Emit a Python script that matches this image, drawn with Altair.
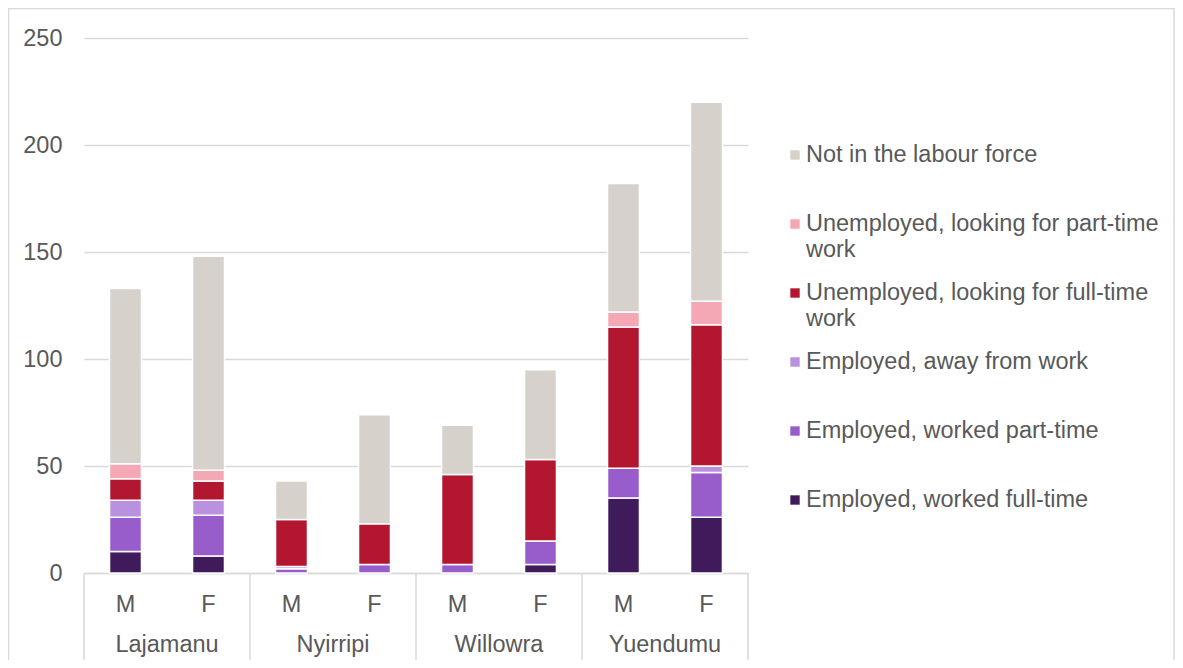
import altair as alt
import pandas as pd

towns = ["Lajamanu", "Nyirripi", "Willowra", "Yuendumu"]
sexes = ["M", "F"]

# stacking order: bottom -> top
categories = [
    "Employed, worked full-time",
    "Employed, worked part-time",
    "Employed, away from work",
    "Unemployed, looking for full-time work",
    "Unemployed, looking for part-time work",
    "Not in the labour force",
]
colors = ["#3F1B5C", "#985CCB", "#B991DE", "#B3172F", "#F4A7B4", "#D6D1CB"]

# bar order: Lajamanu M, F, Nyirripi M, F, Willowra M, F, Yuendumu M, F
worked_full_time = [10, 8, 0, 0, 0, 4, 35, 26]
worked_part_time = [16, 19, 2, 4, 4, 11, 14, 21]
away_from_work = [8, 7, 1, 0, 0, 0, 0, 3]
looking_full_time = [10, 9, 22, 19, 42, 38, 66, 66]
looking_part_time = [7, 5, 0, 0, 0, 0, 7, 11]
not_in_labour_force = [82, 100, 18, 51, 23, 42, 60, 93]

series = [worked_full_time, worked_part_time, away_from_work,
          looking_full_time, looking_part_time, not_in_labour_force]

legend_line1 = ["Not in the labour force",
                "Unemployed, looking for part-time",
                "Unemployed, looking for full-time",
                "Employed, away from work",
                "Employed, worked part-time",
                "Employed, worked full-time"]
legend_line2 = ["", "work", "work", "", "", ""]

y_ticks = [0, 50, 100, 150, 200, 250]

keys = [f"{t}|{s}" for t in towns for s in sexes]
rows = []
for ci, (cat, vals) in enumerate(zip(categories, series)):
    for k, v in zip(keys, vals):
        if v > 0:
            rows.append({"key": k, "category": cat, "order": ci, "value": v})
df = pd.DataFrame(rows)

W, H = 664, 535
step = W / len(keys)
FONT = "Liberation Sans"
GREY = "#595959"
LINE = "#D9D9D9"
FS = 23.5

xscale = alt.Scale(domain=keys, paddingInner=0.615, paddingOuter=0.3075)
cscale = alt.Scale(domain=categories, range=colors)

bars = alt.Chart(df).mark_bar(stroke="white", strokeWidth=1.5).encode(
    x=alt.X("key:N", scale=xscale, sort=keys, title=None,
            axis=alt.Axis(labelExpr="split(datum.value,'|')[1]", labelAngle=0,
                          ticks=False, domainColor=LINE, domainWidth=1.5,
                          labelFontSize=FS, labelColor=GREY, labelFont=FONT,
                          labelPadding=19, grid=False)),
    y=alt.Y("value:Q", stack="zero", scale=alt.Scale(domain=[0, 250], nice=False),
            title=None,
            axis=alt.Axis(values=y_ticks, ticks=False, domain=False,
                          gridColor=LINE, gridWidth=1.5, labelFontSize=FS,
                          labelColor=GREY, labelFont=FONT, labelPadding=22)),
    color=alt.Color("category:N", scale=cscale, legend=None),
    order=alt.Order("order:Q", sort="ascending"),
)

gdf = pd.DataFrame({"key": [f"{t}|M" for t in towns], "town": towns})
glabels = alt.Chart(gdf).mark_text(font=FONT, fontSize=FS, color=GREY,
                                   baseline="middle", dx=step / 2).encode(
    x=alt.X("key:N", scale=xscale, sort=keys),
    y=alt.value(H + 72),
    text="town:N",
)

seps = alt.Chart(gdf).mark_rule(color=LINE, strokeWidth=1.5, xOffset=-step / 2).encode(
    x=alt.X("key:N", scale=xscale, sort=keys),
    y=alt.value(H), y2=alt.value(H + 88),
)
sep_end = alt.Chart(pd.DataFrame({"key": [keys[-1]]})).mark_rule(
    color=LINE, strokeWidth=1.5, xOffset=step / 2).encode(
    x=alt.X("key:N", scale=xscale, sort=keys),
    y=alt.value(H), y2=alt.value(H + 88),
)

ldf = pd.DataFrame({"category": categories[::-1], "line1": legend_line1,
                    "line2": legend_line2})
lsort = categories[::-1]
ly = alt.Y("category:N", sort=lsort, axis=None,
           scale=alt.Scale(type="point", domain=lsort, range=[117, 462], padding=0))
lsym = alt.Chart(ldf).mark_square(size=88, opacity=1).encode(
    x=alt.value(711), y=ly,
    color=alt.Color("category:N", scale=cscale, legend=None),
)
ltext1 = alt.Chart(ldf).mark_text(font=FONT, fontSize=FS, color=GREY, align="left",
                                  baseline="middle").encode(
    x=alt.value(722), y=ly, text="line1:N")
ltext2 = alt.Chart(ldf).mark_text(font=FONT, fontSize=FS, color=GREY, align="left",
                                  baseline="middle", dy=26).encode(
    x=alt.value(722), y=ly, text="line2:N")

border = alt.Chart(pd.DataFrame({"a": [0]})).mark_rect(
    fill="transparent", stroke=LINE, strokeWidth=1.5).encode(
    x=alt.value(-75.5), x2=alt.value(1090), y=alt.value(-29.5), y2=alt.value(700))

chart = alt.layer(border, bars, seps, sep_end, glabels, lsym, ltext1, ltext2).resolve_scale(
    y="independent"
).properties(
    width=W, height=H,
    padding={"left": 76, "top": 30, "right": 427, "bottom": 87},
    autosize=alt.AutoSizeParams(type="none"),
).configure_view(stroke="transparent")

chart.save("out.html", embed_options={"renderer": "svg", "actions": False})
